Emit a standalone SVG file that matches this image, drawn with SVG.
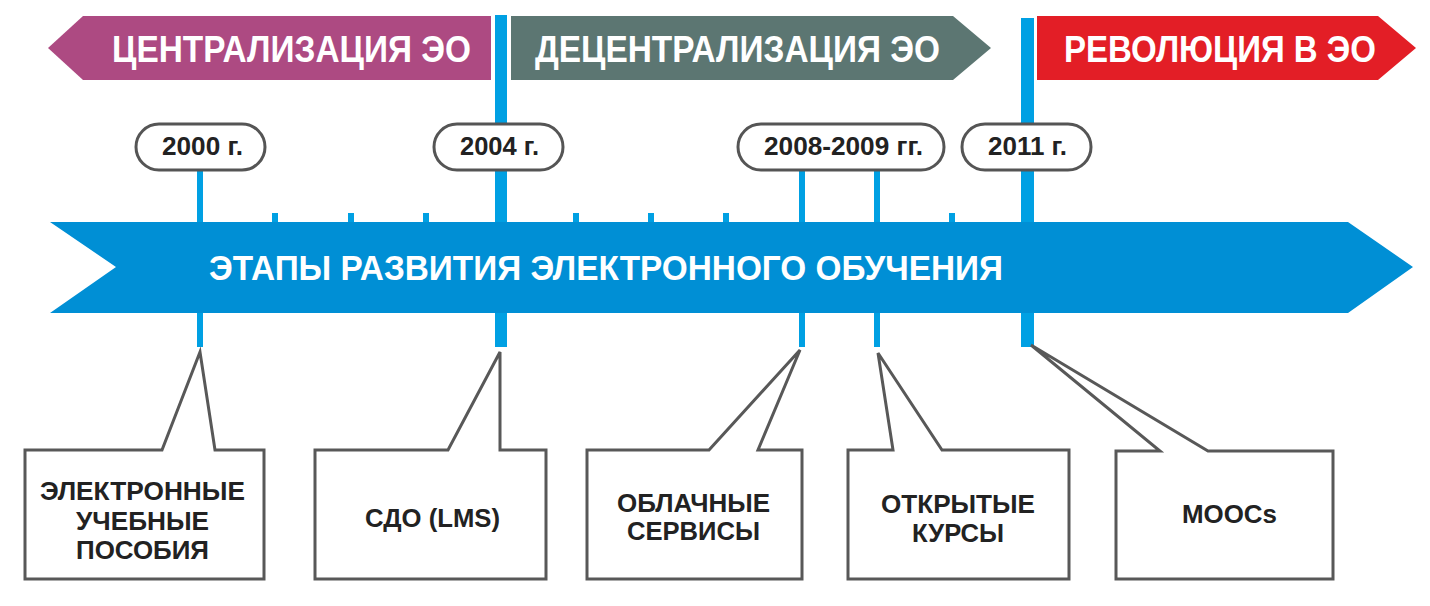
<svg xmlns="http://www.w3.org/2000/svg" width="1430" height="606" viewBox="0 0 1430 606">
<defs>
<style>
.bn{font-family:"Liberation Sans",Arial,sans-serif;font-weight:bold;font-size:37px;fill:#fff}
.mt{font-family:"Liberation Sans",Arial,sans-serif;font-weight:bold;font-size:35px;fill:#fff}
.pt{font-family:"Liberation Sans",Arial,sans-serif;font-weight:bold;font-size:25px;fill:#222}
.bt{font-family:"Liberation Sans",Arial,sans-serif;font-weight:bold;font-size:25px;fill:#222}
.pill{fill:#fff;stroke:#555;stroke-width:3}
.call{fill:#fff;stroke:#585858;stroke-width:3;stroke-linejoin:miter}
.vl{fill:#00A0E3}
</style>
</defs>
<rect width="1430" height="606" fill="#fff"/>
<g id="connectors">
<rect class="vl" x="197" y="168" width="6" height="179"/>
<rect class="vl" x="495" y="15" width="12" height="332"/>
<rect class="vl" x="799" y="168" width="6" height="179"/>
<rect class="vl" x="874" y="168" width="6" height="179"/>
<rect class="vl" x="1021" y="18" width="13" height="329"/>
<rect class="vl" x="272" y="213" width="6" height="12"/>
<rect class="vl" x="348" y="213" width="6" height="12"/>
<rect class="vl" x="423" y="213" width="6" height="12"/>
<rect class="vl" x="573" y="213" width="6" height="12"/>
<rect class="vl" x="648" y="213" width="6" height="12"/>
<rect class="vl" x="723" y="213" width="6" height="12"/>
<rect class="vl" x="949" y="213" width="6" height="12"/>
</g>
<g id="banner-centralization">
<polygon points="83,16 491,16 491,80 83,80 48,48" fill="#AD4A82"/>
<text class="bn" x="112" y="62" textLength="359" lengthAdjust="spacingAndGlyphs">ЦЕНТРАЛИЗАЦИЯ ЭО</text>
</g>
<g id="banner-decentralization">
<polygon points="511,16 953,16 991,48 953,80 511,80" fill="#5C7672"/>
<text class="bn" x="535" y="62" textLength="405" lengthAdjust="spacingAndGlyphs">ДЕЦЕНТРАЛИЗАЦИЯ ЭО</text>
</g>
<g id="banner-revolution">
<polygon points="1037,16 1378,16 1416,48 1378,80 1037,80" fill="#E31E26"/>
<text class="bn" x="1064" y="62" textLength="312" lengthAdjust="spacingAndGlyphs">РЕВОЛЮЦИЯ В ЭО</text>
</g>
<g id="main-arrow">
<polygon points="50,222 1348,222 1413,267 1348,313 50,313 116,267" fill="#008FD5"/>
<text class="mt" x="209" y="280" textLength="794" lengthAdjust="spacingAndGlyphs">ЭТАПЫ РАЗВИТИЯ ЭЛЕКТРОННОГО ОБУЧЕНИЯ</text>
</g>
<g id="pill-2000">
<rect class="pill" x="136" y="124" width="129" height="46" rx="23"/>
<text class="pt" x="162" y="155" textLength="81" lengthAdjust="spacingAndGlyphs">2000 г.</text>
</g>
<g id="pill-2004">
<rect class="pill" x="434" y="124" width="129" height="46" rx="23"/>
<text class="pt" x="460" y="155" textLength="79" lengthAdjust="spacingAndGlyphs">2004 г.</text>
</g>
<g id="pill-2008">
<rect class="pill" x="738" y="124" width="206" height="46" rx="23"/>
<text class="pt" x="764" y="155" textLength="159" lengthAdjust="spacingAndGlyphs">2008-2009 гг.</text>
</g>
<g id="pill-2011">
<rect class="pill" x="962" y="124" width="129" height="46" rx="23"/>
<text class="pt" x="988" y="155" textLength="79" lengthAdjust="spacingAndGlyphs">2011 г.</text>
</g>
<g id="box-textbooks">
<polygon class="call" points="25,450 162,450 200,352 215,450 264,450 264,579 25,579"/>
<text class="bt" x="40" y="500" textLength="205" lengthAdjust="spacingAndGlyphs">ЭЛЕКТРОННЫЕ</text>
<text class="bt" x="76" y="530" textLength="133" lengthAdjust="spacingAndGlyphs">УЧЕБНЫЕ</text>
<text class="bt" x="76" y="559" textLength="133" lengthAdjust="spacingAndGlyphs">ПОСОБИЯ</text>
</g>
<g id="box-lms">
<polygon class="call" points="315,450 448,450 500,352 500,450 546,450 546,579 315,579"/>
<text class="bt" x="365" y="527" textLength="135" lengthAdjust="spacingAndGlyphs">СДО (LMS)</text>
</g>
<g id="box-cloud">
<polygon class="call" points="587,450 709,450 800,350 758,450 802,450 802,579 587,579"/>
<text class="bt" x="617" y="512" textLength="153" lengthAdjust="spacingAndGlyphs">ОБЛАЧНЫЕ</text>
<text class="bt" x="627" y="540" textLength="133" lengthAdjust="spacingAndGlyphs">СЕРВИСЫ</text>
</g>
<g id="box-open">
<polygon class="call" points="848,450 893,450 878,353 942,450 1069,450 1069,579 848,579"/>
<text class="bt" x="881" y="513" textLength="154" lengthAdjust="spacingAndGlyphs">ОТКРЫТЫЕ</text>
<text class="bt" x="912" y="542" textLength="92" lengthAdjust="spacingAndGlyphs">КУРСЫ</text>
</g>
<g id="box-moocs">
<polygon class="call" points="1116,451 1160,451 1031,345 1208,451 1333,451 1333,579 1116,579"/>
<text class="bt" x="1182" y="523" textLength="95" lengthAdjust="spacingAndGlyphs">MOOCs</text>
</g>
</svg>
